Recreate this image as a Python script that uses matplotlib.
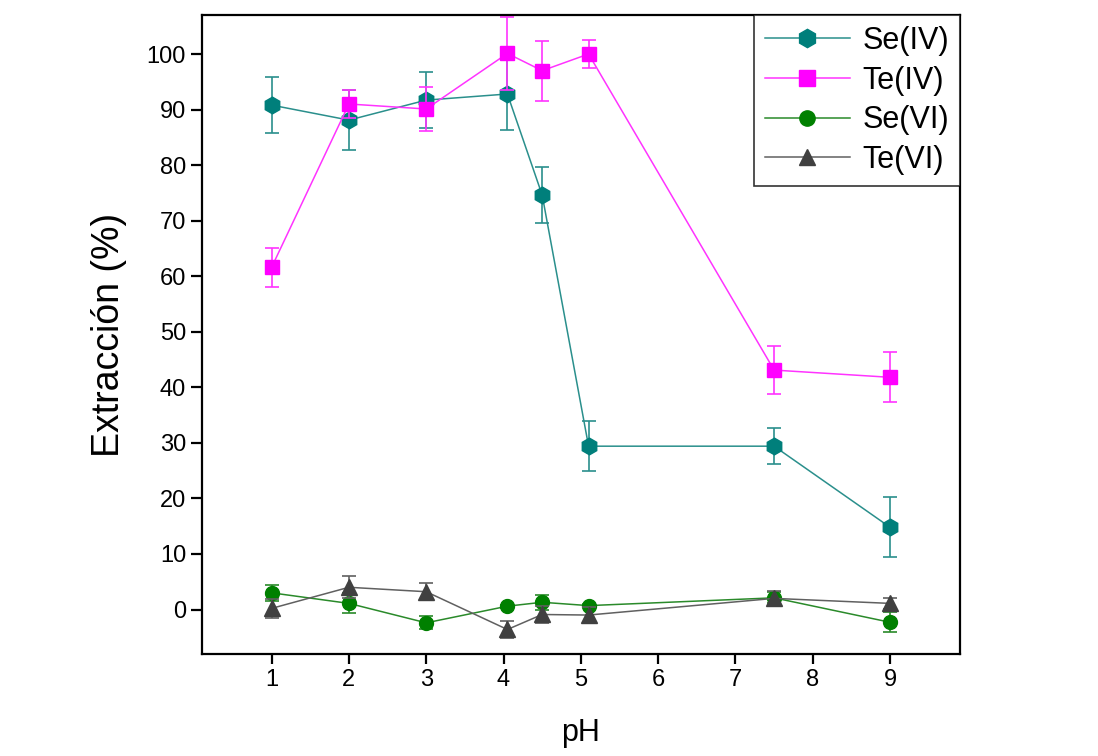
import matplotlib.pyplot as plt
import numpy as np

plt.rcParams['font.family'] = ['Liberation Sans', 'DejaVu Sans']

ph = [1, 2, 3, 4.05, 4.5, 5.1, 7.5, 9]

se_iv = [90.8, 88.1, 91.7, 92.8, 74.6, 29.4, 29.4, 14.8]
se_iv_err = [5.0, 5.4, 5.0, 6.5, 5.1, 4.5, 3.2, 5.4]

te_iv = [61.6, 91.0, 90.1, 100.1, 97.0, 100.0, 43.1, 41.8]
te_iv_err = [3.5, 2.6, 4.0, 6.6, 5.4, 2.5, 4.3, 4.5]

se_vi = [3.0, 1.1, -2.4, 0.6, 1.3, 0.7, 2.1, -2.3]
se_vi_err = [1.4, 1.8, 1.2, 0.3, 1.4, 0.3, 1.0, 1.8]

te_vi = [0.2, 4.0, 3.2, -3.6, -0.9, -1.0, 2.0, 1.1]
te_vi_err = [1.7, 2.0, 1.5, 1.5, 1.5, 1.5, 1.3, 1.0]

series = [
    ('Se(IV)', se_iv, se_iv_err, '#007f7b', '#2a8f8c', 'h', 12),
    ('Te(IV)', te_iv, te_iv_err, '#ff00ff', '#ff33ff', 's', 10),
    ('Se(VI)', se_vi, se_vi_err, '#008000', '#2a8a2a', 'o', 10),
    ('Te(VI)', te_vi, te_vi_err, '#404040', '#606060', '^', 11),
]

fig = plt.figure(figsize=(10.98, 7.56), dpi=100)
ax = fig.add_axes([0.184, 0.135, 0.69, 0.845])

for name, vals, errs, mcol, lcol, mk, ms in series:
    ax.errorbar(ph, vals, yerr=errs, fmt='none', ecolor=lcol, elinewidth=1.2,
                capsize=5, capthick=1.2)
    ax.plot(ph, vals, color=lcol, lw=1.1, marker=mk, markersize=ms,
            markerfacecolor=mcol, markeredgecolor=mcol, label=name)

ax.set_xlim(0.1, 9.9)
ax.set_ylim(-8, 107)
ax.set_xticks(range(1, 10))
ax.set_yticks(range(0, 101, 10))

for sp in ax.spines.values():
    sp.set_linewidth(1.6)
ax.tick_params(axis='both', direction='out', length=7, width=1.6, labelsize=17)
ax.tick_params(axis='y', length=8)

ax.set_xlabel('pH', fontsize=22, labelpad=20)
ax.set_ylabel('Extracción (%)', fontsize=27, labelpad=14)

leg = ax.legend(loc='upper right', fontsize=22, frameon=True, fancybox=False,
                edgecolor='black', borderaxespad=0, handlelength=2.8,
                labelspacing=0.32, borderpad=0.35, handletextpad=0.4,
                markerscale=1.1)
leg.get_frame().set_linewidth(1.2)

fig.savefig('out.png', dpi=100)
